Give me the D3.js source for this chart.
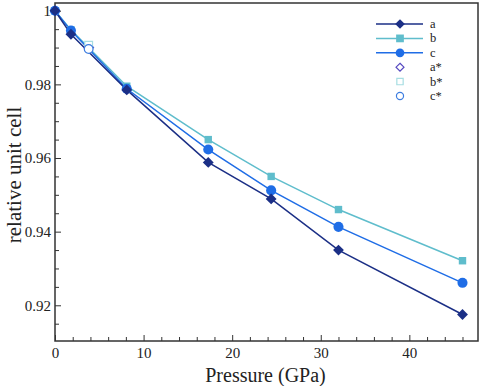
<!DOCTYPE html>
<html>
<head>
<meta charset="utf-8">
<script src="https://cdn.jsdelivr.net/npm/d3@7"></script>
<style>
  body { margin: 0; background: #fff; }
</style>
</head>
<body>
<div id="chart"></div>
<script>
const width = 485;
const height = 386;
const margin = { top: 3, right: 7, bottom: 45, left: 55 };
const serif = "'Liberation Serif', 'Times New Roman', serif";

// Data
const pressure = [0, 1.8, 8.1, 17.3, 24.4, 32.0, 46.0];
const seriesA = [1.0, 0.9936, 0.9785, 0.9588, 0.9489, 0.9350, 0.9175];
const seriesB = [1.0, 0.9948, 0.9795, 0.9650, 0.9550, 0.9460, 0.9321];
const seriesC = [1.0, 0.9946, 0.9788, 0.9623, 0.9512, 0.9413, 0.9261];
const starPressure = [3.8];
const starA = [0.9900];
const starB = [0.9906];
const starC = [0.9896];

const names = ["a", "b", "c", "a*", "b*", "c*"];
const colours = {
  a: "#1b2f86", b: "#5fbdcc", c: "#1f6de6",
  "a*": "#5548c0", "b*": "#a6dde2", "c*": "#3c7de0"
};
const symFor = { a: d3.symbolDiamond2, b: d3.symbolSquare, c: d3.symbolCircle,
  "a*": d3.symbolDiamond2, "b*": d3.symbolSquare, "c*": d3.symbolCircle };

const x = d3.scaleLinear().domain([0, 47.75]).range([margin.left, width - margin.right]);
const y = d3.scaleLinear().domain([0.9103, 1.0021]).range([height - margin.bottom, margin.top]);

const svg = d3.create("svg").attr("width", width).attr("height", height)
  .attr("font-family", serif)
  .style("display", "block").style("font-family", serif);

// frame
svg.append("rect")
  .attr("x", x.range()[0]).attr("y", y.range()[1])
  .attr("width", x.range()[1] - x.range()[0])
  .attr("height", y.range()[0] - y.range()[1])
  .attr("fill", "none").attr("stroke", "#333").attr("stroke-width", 1.5);

// axes, ticks pointing inward
const xAxis = svg.append("g")
  .attr("transform", `translate(0,${y.range()[0]})`)
  .call(d3.axisBottom(x).tickValues(d3.range(0, 47, 2)).tickSize(-4)
    .tickFormat(d => d % 10 === 0 ? d : ""));
xAxis.selectAll(".tick line").attr("y2", d => d % 10 === 0 ? -6 : -4);

const yAxis = svg.append("g")
  .attr("transform", `translate(${x.range()[0]},0)`)
  .call(d3.axisLeft(y).tickValues(d3.range(0.915, 1.0011, 0.005)).tickSize(-4)
    .tickFormat(d => Math.round(d * 1000) % 20 === 0 ? d3.format("~g")(+d.toFixed(3)) : ""));
yAxis.selectAll(".tick line").attr("x2", d => Math.round(d * 1000) % 20 === 0 ? 6 : 4);

[xAxis, yAxis].forEach(a => a.attr("font-family", serif).attr("font-size", 15));
svg.selectAll(".domain").remove();
svg.selectAll(".tick line").attr("stroke", "#333");
svg.selectAll(".tick text")
  .style("font-family", serif).style("font-size", "15px").attr("fill", "#222");
xAxis.selectAll(".tick text").attr("y", 5).attr("dy", "0.8em");
yAxis.selectAll(".tick text").attr("x", -4);

// axis titles
svg.append("text")
  .attr("x", (x.range()[0] + x.range()[1]) / 2 - 1).attr("y", 382)
  .attr("text-anchor", "middle").attr("fill", "#222")
  .style("font-family", serif).style("font-size", "20px")
  .text("Pressure (GPa)");
svg.append("text")
  .attr("transform", `translate(21,${(y.range()[0] + y.range()[1]) / 2 + 3}) rotate(-90)`)
  .attr("text-anchor", "middle").attr("fill", "#222")
  .style("font-family", serif).style("font-size", "21px")
  .text("relative unit cell");

// lines + markers
const line = d3.line().x(d => x(d[0])).y(d => y(d[1]));
const solid = [["b", seriesB], ["c", seriesC], ["a", seriesA]];
const plot = svg.append("g");
solid.forEach(([key, vals]) => {
  const pts = pressure.map((p, i) => [p, vals[i]]);
  plot.append("path").datum(pts)
    .attr("d", line).attr("fill", "none")
    .attr("stroke", colours[key]).attr("stroke-width", 1.5);
});
solid.forEach(([key, vals]) => {
  const size = key === "c" ? 80 : key === "b" ? 55 : 75;
  plot.selectAll(null).data(pressure.map((p, i) => [p, vals[i]]))
    .join("path")
    .attr("transform", d => `translate(${x(d[0])},${y(d[1])})`)
    .attr("d", d3.symbol(symFor[key], size))
    .attr("fill", colours[key]);
});

// open markers
[["a*", starA], ["b*", starB], ["c*", starC]].forEach(([key, vals]) => {
  plot.selectAll(null).data(starPressure.map((p, i) => [p, vals[i]]))
    .join("path")
    .attr("transform", d => `translate(${x(d[0])},${y(d[1])})`)
    .attr("d", d3.symbol(symFor[key], 60))
    .attr("fill", "#fff").attr("stroke", colours[key]).attr("stroke-width", 1.2);
});

// legend
const legend = svg.append("g").attr("transform", "translate(400,24)");
names.forEach((n, i) => {
  const g = legend.append("g").attr("transform", `translate(0,${i * 14.4})`);
  const filled = !n.includes("*");
  if (filled) {
    g.append("line").attr("x1", -24).attr("x2", 23)
      .attr("stroke", colours[n]).attr("stroke-width", 1.5);
  }
  g.append("path")
    .attr("d", d3.symbol(symFor[n], filled ? 60 : 40))
    .attr("fill", filled ? colours[n] : "none")
    .attr("stroke", filled ? "none" : colours[n]).attr("stroke-width", 1.2);
  g.append("text").attr("x", 30).attr("dy", "0.32em").attr("fill", "#222")
    .style("font-family", serif).style("font-size", "12.5px").text(n);
});

document.querySelector("#chart").appendChild(svg.node());
</script>
</body>
</html>
